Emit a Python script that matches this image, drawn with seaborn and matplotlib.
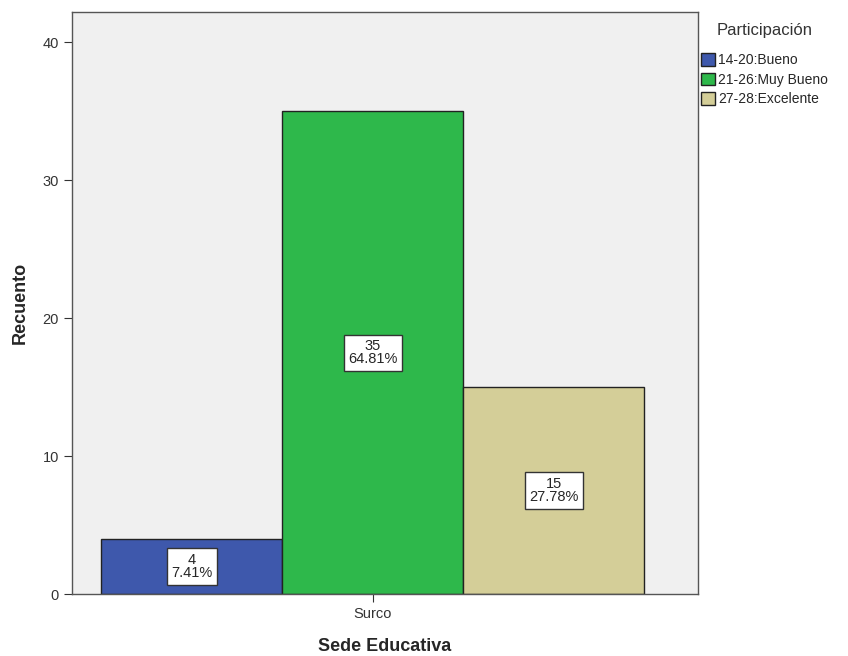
import matplotlib
matplotlib.use("Agg")
import matplotlib.pyplot as plt
import seaborn as sns
import pandas as pd

# Datos
sede = ["Surco", "Surco", "Surco"]
participacion = ["14-20:Bueno", "21-26:Muy Bueno", "27-28:Excelente"]
recuento = [4, 35, 15]
porcentaje = ["7.41%", "64.81%", "27.78%"]
colores = ["#3e58ac", "#2eb84b", "#d4ce98"]

df = pd.DataFrame({"Sede Educativa": sede, "Participación": participacion, "Recuento": recuento})

sns.set_style("ticks")
plt.rcParams["font.family"] = ["Liberation Sans", "DejaVu Sans"]

fig = plt.figure(figsize=(8.48, 6.56), dpi=100)
ax = fig.add_axes([0.0849, 0.0945, 0.738, 0.887])
ax.set_facecolor("#f0f0f0")

sns.barplot(data=df, x="Sede Educativa", y="Recuento", hue="Participación",
            palette=colores, width=0.8, edgecolor="#222222", linewidth=1,
            saturation=1, ax=ax)

# Etiquetas dentro de las barras
for bar, n, p in zip(ax.patches, recuento, porcentaje):
    cx = bar.get_x() + bar.get_width() / 2
    ax.text(cx, n / 2, f"{n}\n{p}", ha="center", va="center", fontsize=10.5,
            linespacing=0.95,
            bbox=dict(boxstyle="square,pad=0.3", facecolor="white", edgecolor="#333333", linewidth=1))

ax.set_ylim(0, 42.2)
ax.set_xlim(-0.443, 0.479)
ax.set_yticks([0, 10, 20, 30, 40])
ax.tick_params(axis="both", labelsize=10.5, length=6, color="#333333", labelcolor="#333333")
ax.set_xlabel("Sede Educativa", fontsize=13, fontweight="bold", labelpad=12)
ax.set_ylabel("Recuento", fontsize=13, fontweight="bold", labelpad=10)
for s in ax.spines.values():
    s.set_color("#555555")
    s.set_linewidth(1)

leg = ax.legend(title="Participación", loc="upper left", bbox_to_anchor=(0.99, 0.998),
                frameon=False, fontsize=10, title_fontsize=12, handlelength=1.0,
                handleheight=1.0, handletextpad=0.2, labelspacing=0.4, borderaxespad=0.3)
leg._legend_box.sep = 11
leg.get_title().set_color("#333333")
for h in leg.legend_handles:
    h.set_edgecolor("#222222")

fig.savefig("out.png", dpi=100)
